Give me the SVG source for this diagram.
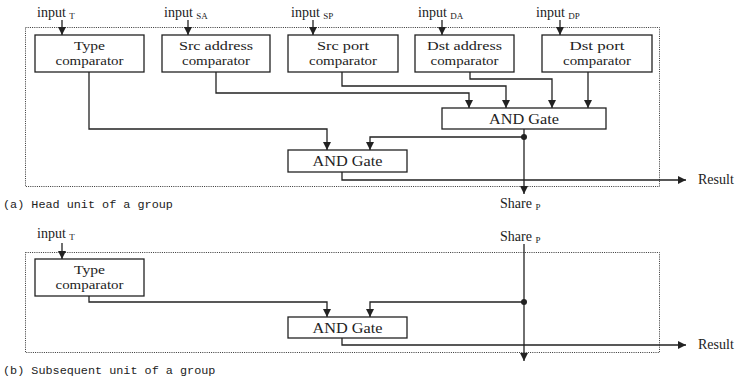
<svg xmlns="http://www.w3.org/2000/svg" width="739" height="380" viewBox="0 0 739 380">
<defs>
<marker id="ah" viewBox="0 0 8 8" refX="8" refY="4" markerWidth="8" markerHeight="8" markerUnits="userSpaceOnUse" orient="auto">
<path d="M0,0 L8,4 L0,8 z" fill="#222"/>
</marker>
<style>
.bx{fill:#fff;stroke:#222;stroke-width:1.3}
.frame{fill:none;stroke:#333;stroke-width:1;stroke-dasharray:1,1.2}
.w{fill:none;stroke:#222;stroke-width:1.3}
.a{fill:none;stroke:#222;stroke-width:1.3;marker-end:url(#ah)}
.t{font-family:"Liberation Serif","Times New Roman",serif;font-size:13.5px;fill:#222;text-anchor:middle}
.g{font-family:"Liberation Serif","Times New Roman",serif;font-size:15px;fill:#222;text-anchor:middle}
.l{font-family:"Liberation Serif","Times New Roman",serif;font-size:14px;fill:#222}
.s{font-size:9px}
.cap{font-family:"Liberation Mono","Courier New",monospace;font-size:11.8px;fill:#222}
.dot{fill:#222}
</style>
</defs>
<rect width="739" height="380" fill="#fff"/>

<!-- Part (a) -->
<rect class="frame" x="25.5" y="27.5" width="634" height="159"/>

<g id="inputs-a">
<text class="l" x="37" y="17">input <tspan class="s" dy="2">T</tspan></text>
<text class="l" x="164" y="17">input <tspan class="s" dy="2">SA</tspan></text>
<text class="l" x="291" y="17">input <tspan class="s" dy="2">SP</tspan></text>
<text class="l" x="418" y="17">input <tspan class="s" dy="2">DA</tspan></text>
<text class="l" x="536" y="17">input <tspan class="s" dy="2">DP</tspan></text>
</g>

<g id="type-a">
<rect class="bx" x="35" y="35" width="109" height="37"/>
<text class="t" x="89.5" y="49.5" textLength="31" lengthAdjust="spacingAndGlyphs">Type</text>
<text class="t" x="89.5" y="64.5" textLength="68" lengthAdjust="spacingAndGlyphs">comparator</text>
</g>
<g id="srcaddr">
<rect class="bx" x="162" y="35" width="108" height="37"/>
<text class="t" x="216" y="49.5" textLength="74" lengthAdjust="spacingAndGlyphs">Src address</text>
<text class="t" x="216" y="64.5" textLength="68" lengthAdjust="spacingAndGlyphs">comparator</text>
</g>
<g id="srcport">
<rect class="bx" x="288" y="35" width="110" height="37"/>
<text class="t" x="343" y="49.5" textLength="52" lengthAdjust="spacingAndGlyphs">Src port</text>
<text class="t" x="343" y="64.5" textLength="68" lengthAdjust="spacingAndGlyphs">comparator</text>
</g>
<g id="dstaddr">
<rect class="bx" x="415" y="35" width="99" height="37"/>
<text class="t" x="464.5" y="49.5" textLength="75" lengthAdjust="spacingAndGlyphs">Dst address</text>
<text class="t" x="464.5" y="64.5" textLength="68" lengthAdjust="spacingAndGlyphs">comparator</text>
</g>
<g id="dstport">
<rect class="bx" x="542" y="35" width="110" height="37"/>
<text class="t" x="597" y="49.5" textLength="55" lengthAdjust="spacingAndGlyphs">Dst port</text>
<text class="t" x="597" y="64.5" textLength="68" lengthAdjust="spacingAndGlyphs">comparator</text>
</g>
<g id="and1">
<rect class="bx" x="442" y="108" width="164" height="21"/>
<text class="g" x="524" y="123.5" textLength="70" lengthAdjust="spacingAndGlyphs">AND Gate</text>
</g>
<g id="and2-a">
<rect class="bx" x="288" y="150" width="119" height="22"/>
<text class="g" x="347.5" y="166" textLength="70" lengthAdjust="spacingAndGlyphs">AND Gate</text>
</g>

<g id="connectors-a">
<path class="a" d="M62,20 V35"/>
<path class="a" d="M188,20 V35"/>
<path class="a" d="M313,20 V35"/>
<path class="a" d="M442,20 V35"/>
<path class="a" d="M560,20 V35"/>
<path class="a" d="M216,72 V93 H469 V108"/>
<path class="a" d="M342,72 V86 H506 V108"/>
<path class="a" d="M470,72 V79 H552 V108"/>
<path class="a" d="M588,72 V108"/>
<path class="a" d="M89,72 V129 H327 V150"/>
<path class="a" d="M524,129 V194"/>
<path class="a" d="M524,137 H370 V150"/>
<circle class="dot" cx="524" cy="137" r="3"/>
<path class="a" d="M342,172 V180 H686"/>
</g>
<text class="l" x="698" y="184">Result</text>
<text class="l" x="500" y="208">Share <tspan class="s" dy="2">P</tspan></text>
<text class="cap" x="3" y="208">(a) Head unit of a group</text>

<!-- Part (b) -->
<rect class="frame" x="25.5" y="252.5" width="634" height="100"/>
<text class="l" x="37" y="238">input <tspan class="s" dy="2">T</tspan></text>
<text class="l" x="500" y="241">Share <tspan class="s" dy="2">P</tspan></text>
<g id="type-b">
<rect class="bx" x="35" y="259" width="109" height="37"/>
<text class="t" x="89.5" y="273.5" textLength="31" lengthAdjust="spacingAndGlyphs">Type</text>
<text class="t" x="89.5" y="288.5" textLength="68" lengthAdjust="spacingAndGlyphs">comparator</text>
</g>
<g id="and2-b">
<rect class="bx" x="288" y="317" width="119" height="21"/>
<text class="g" x="347.5" y="332.5" textLength="70" lengthAdjust="spacingAndGlyphs">AND Gate</text>
</g>
<g id="connectors-b">
<path class="a" d="M62,243 V259"/>
<path class="a" d="M89,296 V302 H327 V317"/>
<path class="a" d="M524,244 V361"/>
<path class="a" d="M524,302 H370 V317"/>
<circle class="dot" cx="524" cy="302" r="3"/>
<path class="a" d="M342,338 V345 H686"/>
</g>
<text class="l" x="698" y="349">Result</text>
<text class="cap" x="3" y="374">(b) Subsequent unit of a group</text>
</svg>
